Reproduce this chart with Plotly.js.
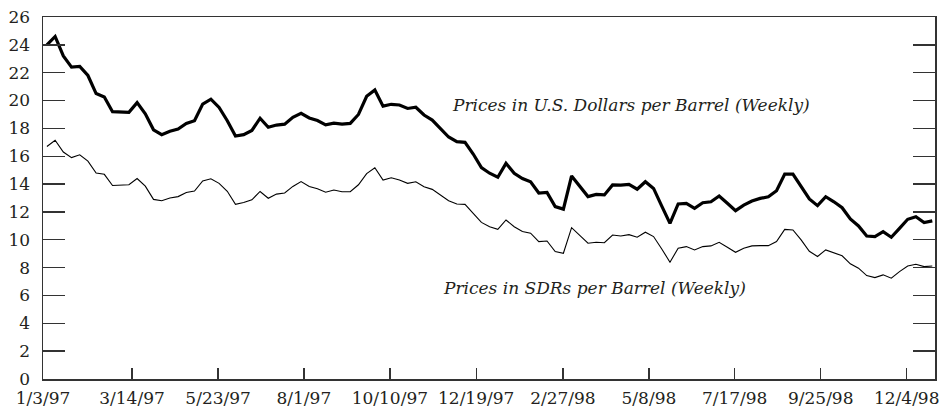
<!DOCTYPE html>
<html>
<head>
<meta charset="utf-8">
<script src="https://cdn.plot.ly/plotly-3.0.1.min.js"></script>
<style>html,body{margin:0;padding:0;background:#fff;}#chart{width:942px;height:411px;}</style>
</head>
<body>
<div id="chart"></div>
<script>
// Weekly oil prices, 1/3/97 .. end of 1998
const usdPrices = [
24.0,24.6,23.2,22.4,22.45,21.8,20.5,20.25,19.2,19.2,
19.15,19.85,19.05,17.9,17.55,17.8,17.95,18.35,18.55,19.75,
20.1,19.5,18.55,17.45,17.55,17.85,18.73,18.08,18.24,18.3,
18.8,19.08,18.75,18.56,18.25,18.37,18.3,18.36,19.0,20.3,
20.76,19.6,19.73,19.68,19.43,19.52,18.96,18.6,18.0,17.38,
17.05,17.0,16.16,15.18,14.78,14.49,15.49,14.78,14.4,14.16,
13.36,13.4,12.38,12.2,14.58,13.8,13.1,13.26,13.22,13.94,
13.92,13.98,13.63,14.17,13.69,12.42,11.18,12.57,12.62,12.26,
12.66,12.73,13.14,12.62,12.09,12.49,12.78,12.97,13.09,13.52,
14.72,14.72,13.86,12.93,12.45,13.09,12.73,12.3,11.49,10.99,
10.27,10.23,10.58,10.18,10.82,11.47,11.66,11.24,11.36
];
const sdrPrices = [
16.7,17.15,16.3,15.9,16.1,15.65,14.8,14.7,13.9,13.95,
13.95,14.4,13.85,12.9,12.8,13.0,13.1,13.4,13.5,14.22,
14.38,14.05,13.48,12.55,12.68,12.87,13.47,12.98,13.28,13.36,
13.83,14.18,13.83,13.67,13.41,13.57,13.45,13.45,13.95,14.75,
15.17,14.29,14.45,14.29,14.05,14.17,13.81,13.62,13.21,12.8,
12.57,12.54,11.9,11.25,10.94,10.75,11.42,10.94,10.6,10.47,
9.87,9.91,9.15,9.03,10.87,10.34,9.75,9.82,9.79,10.34,
10.27,10.37,10.18,10.54,10.23,9.34,8.39,9.39,9.51,9.27,
9.51,9.56,9.82,9.46,9.1,9.39,9.56,9.58,9.58,9.87,
10.75,10.7,9.99,9.17,8.8,9.27,9.08,8.85,8.27,7.96,
7.43,7.28,7.48,7.24,7.71,8.12,8.24,8.07,8.12
];
const tickLabels = ["1/3/97","3/14/97","5/23/97","8/1/97","10/10/97","12/19/97","2/27/98","5/8/98","7/17/98","9/25/98","12/4/98"];
const tickWeeks = [-0.48,10.38,20.88,31.34,41.83,52.36,62.94,73.43,83.89,94.39,104.88];
const usdLabel = "Prices in U.S. Dollars per Barrel (Weekly)";
const sdrLabel = "Prices in SDRs per Barrel (Weekly)";

const weeks = usdPrices.map((_, i) => i);

const serif = "DejaVu Serif";
const ink = "#231f20";

const traces = [
  {x: weeks, y: usdPrices, type: "scatter", mode: "lines",
   line: {color: "#000", width: 3.2, shape: "linear"}, hoverinfo: "skip"},
  {x: weeks, y: sdrPrices, type: "scatter", mode: "lines",
   line: {color: "#000", width: 1.1, shape: "linear"}, hoverinfo: "skip"}
];

const layout = {
  width: 942, height: 411,
  margin: {l: 43, r: 7, t: 17, b: 32, pad: 0},
  paper_bgcolor: "#fff", plot_bgcolor: "#fff",
  showlegend: false,
  font: {family: serif, color: ink, size: 17},
  xaxis: {
    range: [-0.48, 108.33], showgrid: false, zeroline: false,
    showline: true, linecolor: "#333", linewidth: 1.5, mirror: true,
    ticks: "inside", ticklen: 11, tickwidth: 1.3, tickcolor: "#333",
    tickmode: "array", tickvals: tickWeeks, ticktext: tickLabels,
    tickfont: {family: serif, size: 17, color: ink}, ticklabelstandoff: 3
  },
  yaxis: {
    range: [0, 26], showgrid: false, zeroline: false,
    showline: true, linecolor: "#333", linewidth: 1.5, mirror: "ticks",
    ticks: "inside", ticklen: 22, tickwidth: 1.3, tickcolor: "#333",
    tickmode: "linear", tick0: 0, dtick: 2,
    tickfont: {family: serif, size: 17, color: ink}, ticklabelstandoff: 8
  },
  annotations: [
    {x: 71.2, y: 19.66, xref: "x", yref: "y", text: usdLabel, showarrow: false,
     font: {family: serif, size: 17, color: ink, style: "italic"}},
    {x: 66.85, y: 6.57, xref: "x", yref: "y", text: sdrLabel, showarrow: false,
     font: {family: serif, size: 17, color: ink, style: "italic"}}
  ]
};

Plotly.newPlot("chart", traces, layout, {staticPlot: true, displayModeBar: false});
</script>
</body>
</html>
